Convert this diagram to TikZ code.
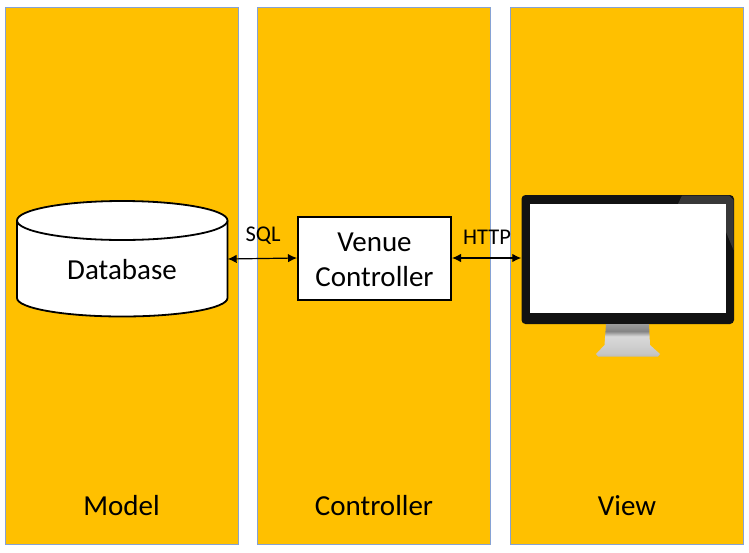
\documentclass[tikz,border=0pt]{standalone}
\usepackage{fontspec}
\setmainfont{Carlito}
\usetikzlibrary{arrows.meta}
\definecolor{layerfill}{HTML}{FFC000}
\definecolor{layeredge}{HTML}{86A2D4}
\pgfdeclareverticalshading{standgrey}{100bp}{
  color(0bp)=(black!50);
  color(30bp)=(black!22);
  color(56bp)=(black!15);
  color(64bp)=(black!48);
  color(80bp)=(black!35);
  color(94bp)=(black!12);
  color(100bp)=(white)}
\tikzset{
  layerbox/.style={draw=layeredge, fill=layerfill, line width=1pt, minimum width=233pt, minimum height=537pt, inner sep=0pt},
  layerlabel/.style={font=\fontsize{29}{35}\selectfont},
  link/.style={{Latex[length=9pt,width=8.5pt]}-{Latex[length=9pt,width=8.5pt]}, line width=1.2pt},
  linklabel/.style={font=\fontsize{22.5}{26}\selectfont, inner sep=0pt}
}

\begin{document}
\begin{tikzpicture}[x=1pt, y=-1pt]

\useasboundingbox (0, 0) rectangle (749, 552);

% ── Layers ──
\foreach \x/\name/\label in {121.5/model/Model, 374/controller/Controller, 627/view/View} {
    \node[layerbox] (\name) at (\x, 275.5) {};
    \node[layerlabel] (\name label) at (\x, 506) {\label};
}

% ── Database ──
\draw[fill=white, line width=1.8pt] (17, 220.5) -- (17, 298) arc[start angle=180, end angle=360, x radius=105.25, y radius=-18.5] -- (227.5, 220.5);
\draw[fill=white, line width=1.8pt] (122.25, 220.5) ellipse[x radius=105.25, y radius=19.5];
\node[minimum width=210.5pt, minimum height=115pt, inner sep=0pt] (database) at (122.25, 259) {};
\node[layerlabel] (database label) at (122, 270) {Database};

% ── Venue controller ──
\node[draw, fill=white, line width=2pt, minimum width=153pt, minimum height=83pt, inner sep=0pt] (venue) at (374.5, 258) {};
\node[layerlabel, align=center] (venue label) at (374.5, 259.5) {Venue\\Controller};

% ── Monitor ──
\fill[black!93, rounded corners=4pt] (521.5, 195) rectangle (734, 324);
\fill[black!78] (682, 195.5) -- (729, 195.5) -- (733.5, 200) -- (733.5, 250) -- (726, 232) -- (726, 204) -- (678, 204) -- cycle;
\shade[shading=standgrey] (606, 324) -- (649, 324) -- (650, 345) -- (660, 354) -- (658, 356.5) -- (598, 356.5) -- (596, 354) -- (604.5, 345) -- cycle;
\node[fill=white, minimum width=196pt, minimum height=109pt, inner sep=0pt] (screen) at (628, 258.5) {};
\node[minimum width=212.5pt, minimum height=129pt, inner sep=0pt] (monitor) at (627.75, 259.5) {};

% ── Links ──
\draw[link] (database.east) -- (venue.west);
\draw[link] (venue.east) -- (monitor.west |- venue.east);
\node[linklabel] (sql) at (263, 236) {SQL};
\node[linklabel] (http) at (487, 237) {HTTP};

\end{tikzpicture}
\end{document}
